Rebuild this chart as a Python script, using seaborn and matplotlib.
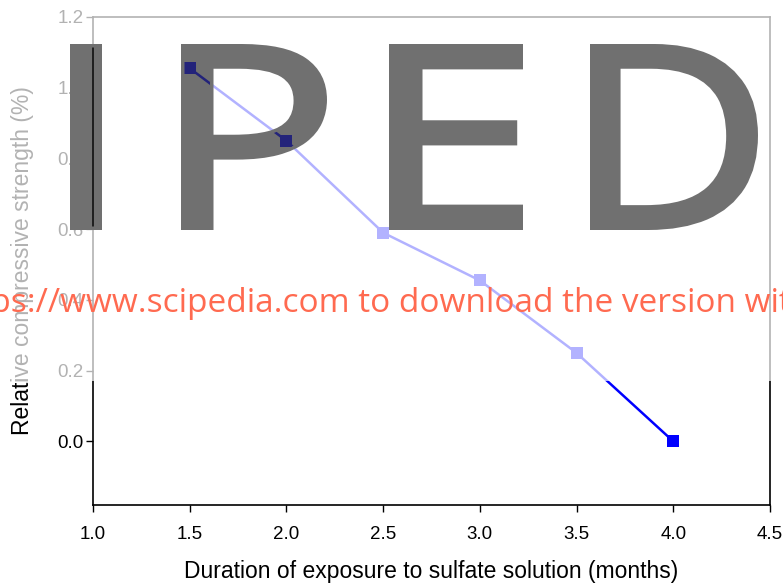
import numpy as np
import pandas as pd
import matplotlib
matplotlib.use("Agg")
import matplotlib.pyplot as plt
import seaborn as sns
from matplotlib.ticker import FormatStrFormatter
from matplotlib.textpath import TextPath
from matplotlib.font_manager import FontProperties
from matplotlib.path import Path
from matplotlib.patches import PathPatch, Rectangle
from matplotlib.transforms import Affine2D

# ---- data ----
months = [1.5, 2.0, 2.5, 3.0, 3.5, 4.0]
strength = [1.055, 0.85, 0.59, 0.455, 0.25, 0.0]
x_ticks = [1.0, 1.5, 2.0, 2.5, 3.0, 3.5, 4.0, 4.5]
y_ticks = [0.0, 0.2, 0.4, 0.6, 0.8, 1.0, 1.2]
x_label = "Duration of exposure to sulfate solution (months)"
y_label = "Relative compressive strength (%)"
wm_letters = ["I", "P", "E", "D"]
wm_url = "https://www.scipedia.com to download the version without watermark"

W, H = 783, 585
sns.set_style("ticks")
plt.rcParams["font.family"] = ["Liberation Sans", "DejaVu Sans"]

fig = plt.figure(figsize=(W / 100, H / 100), dpi=100)
pos = [93 / W, 1 - 505 / H, (770 - 93) / W, (505 - 17) / H]
ax = fig.add_axes(pos)

df = pd.DataFrame({"m": months, "s": strength})
sns.lineplot(data=df, x="m", y="s", ax=ax, color="#0000ff", marker="s",
             markersize=9, markeredgewidth=0, linewidth=1.8)

ax.set_xlim(1.0, 4.5)
ax.set_ylim(-0.18, 1.2)
ax.set_xticks(x_ticks)
ax.set_yticks(y_ticks)
ax.xaxis.set_major_formatter(FormatStrFormatter("%.1f"))
ax.yaxis.set_major_formatter(FormatStrFormatter("%.1f"))
for sp in ax.spines.values():
    sp.set_visible(True)
    sp.set_color("black")
    sp.set_linewidth(1.2)
ax.tick_params(axis="x", direction="out", length=5, width=1, pad=10,
               labelsize=13.5, colors="black")
ax.tick_params(axis="y", direction="out", length=5, width=1, pad=2,
               labelsize=13.5, colors="black")
ax.set_xlabel(x_label, fontsize=16.5, color="black")
ax.set_ylabel(y_label, fontsize=16.5, color="black")
ax.xaxis.set_label_coords(0.5, -(560 - 505) / 488)
ax.yaxis.set_label_coords((34 - 93) / 677, 0.5)

# ---- watermark: white veil ----
veil = Rectangle((0, 1 - 381 / H), 1, 381 / H, transform=fig.transFigure,
                 facecolor="white", edgecolor="none", alpha=0.7, zorder=1)
fig.add_artist(veil)

# ---- watermark letters ----
fp = FontProperties(family="Open Sans")
boxes = [(70, 102), (181, 327), (389, 523), (590, 758)]
cap_top, base = 44, 230
stroke = 3.5  # px added around each glyph outline
paths = []
for ch, (l, r) in zip(wm_letters, boxes):
    tp = TextPath((0, 0), ch, size=100, prop=fp)
    ext = tp.get_extents()
    l2, r2 = l + stroke, r - stroke
    t2, b2 = cap_top + stroke, base - stroke
    sx = (r2 - l2) / ext.width
    sy = (b2 - t2) / ext.height
    v = tp.vertices.copy()
    v[:, 0] = l2 + (v[:, 0] - ext.x0) * sx
    v[:, 1] = (H - b2) + (v[:, 1] - ext.y0) * sy
    paths.append(Path(v, tp.codes))
letters = Path.make_compound_path(*paths)
pix = Affine2D().scale(1 / W, 1 / H) + fig.transFigure
wm = PathPatch(letters, transform=pix, facecolor="#707070",
               edgecolor="#707070", linewidth=2 * stroke * 0.72,
               joinstyle="miter", zorder=2)
fig.add_artist(wm)

# darkened data line where the letters cover it
ax2 = fig.add_axes(pos, zorder=3)
ax2.set_xlim(1.0, 4.5)
ax2.set_ylim(-0.18, 1.2)
ax2.axis("off")
sns.lineplot(data=df, x="m", y="s", ax=ax2, color="#23237a", marker="s",
             markersize=9, markeredgewidth=0, linewidth=1.8)
ax2.axvline(1.0, color="#111111", lw=1.2)
for ln in ax2.lines:
    ln.set_clip_box(None)
    ln.set_clip_path(wm)

# ---- watermark url ----
fsz = 24
r = fig.canvas.get_renderer()
tmp = fig.text(0, 0, "https://", fontsize=fsz, family=["Open Sans"])
wpre = tmp.get_window_extent(renderer=r).width
tmp.remove()
fig.text((60 - wpre) / W, 1 - 312 / H, wm_url, fontsize=fsz,
         family=["Open Sans"], color="#ff6a50", va="baseline", ha="left",
         zorder=5)

fig.savefig("out.png", dpi=100)
